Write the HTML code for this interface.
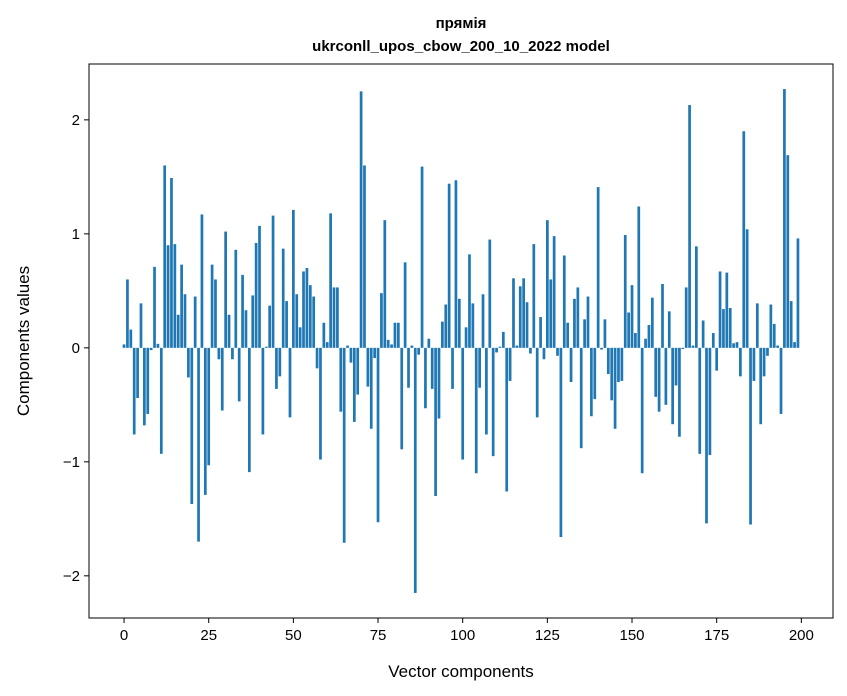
<!DOCTYPE html>
<html><head><meta charset="utf-8"><style>
body{margin:0;background:#fff;}
svg{display:block;font-family:"Liberation Sans","DejaVu Sans",sans-serif;}
</style></head><body>
<svg id="chart" width="847" height="696" viewBox="0 0 847 696" xmlns="http://www.w3.org/2000/svg">
<rect width="847" height="696" fill="#fff"/>
<text x="461" y="28" text-anchor="middle" font-size="15" font-weight="bold">прямія</text>
<text x="461" y="51" text-anchor="middle" font-size="15" font-weight="bold">ukrconll_upos_cbow_200_10_2022 model</text>
<g id="bars"></g>
<g id="xticks"></g>
<g id="yticks"></g>
<rect x="89" y="64" width="744" height="554" fill="none" stroke="#000" stroke-width="1"/>
<text x="461" y="677" text-anchor="middle" font-size="17">Vector components</text>
<text transform="translate(29,341) rotate(-90)" text-anchor="middle" font-size="17">Components values</text>
</svg>
<script>
const values = [0.03,0.60,0.16,-0.76,-0.44,0.39,-0.68,-0.58,-0.02,0.71,
0.035,-0.93,1.60,0.90,1.49,0.91,0.29,0.73,0.47,-0.26,
-1.37,0.45,-1.70,1.17,-1.29,-1.03,0.73,0.60,-0.10,-0.55,
1.02,0.29,-0.10,0.86,-0.47,0.64,0.33,-1.09,0.46,0.92,
1.07,-0.76,0.01,0.37,1.16,-0.36,-0.25,0.87,0.41,-0.61,
1.21,0.47,0.18,0.67,0.70,0.55,0.45,-0.18,-0.98,0.22,
0.05,1.18,0.53,0.53,-0.56,-1.71,0.02,-0.13,-0.65,-0.41,
2.25,1.60,-0.34,-0.71,-0.09,-1.53,0.48,1.12,0.07,0.03,
0.22,0.22,-0.89,0.75,-0.35,0.02,-2.15,-0.06,1.59,-0.53,
0.08,-0.36,-1.30,-0.62,0.23,0.38,1.44,-0.36,1.47,0.43,
-0.98,0.18,0.82,0.39,-1.10,-0.35,0.47,-0.76,0.95,-0.95,
-0.04,0.01,0.14,-1.26,-0.29,0.61,0.02,0.54,0.61,0.40,
-0.05,0.91,-0.61,0.27,-0.10,1.12,0.60,0.98,-0.07,-1.66,
0.81,0.22,-0.30,0.43,0.53,-0.88,0.25,0.45,-0.60,-0.45,
1.41,-0.015,0.25,-0.23,-0.46,-0.71,-0.30,-0.29,0.99,0.31,
0.55,0.13,1.24,-1.10,0.08,0.20,0.44,-0.43,-0.56,0.56,
-0.50,0.32,-0.67,-0.33,-0.78,-0.01,0.53,2.13,0.02,0.89,
-0.93,0.24,-1.54,-0.94,0.13,-0.20,0.67,0.34,0.66,0.35,
0.04,0.05,-0.25,1.90,1.04,-1.55,-0.29,0.39,-0.67,-0.25,
-0.07,0.38,0.21,0.02,-0.58,2.27,1.69,0.41,0.05,0.96];
const xTickValues = [0,25,50,75,100,125,150,175,200];
const yTickValues = [-2,-1,0,1,2];
const yTickLabels = ["\u22122","\u22121","0","1","2"];

const PL=89, PR=833, PT=64, PB=618;
const XMIN=-10.35, XMAX=209.35, YMIN=-2.37, YMAX=2.49;
function xs(v){return PL+(v-XMIN)/(XMAX-XMIN)*(PR-PL);}
function ys(v){return PB-(v-YMIN)/(YMAX-YMIN)*(PB-PT);}
const NS="http://www.w3.org/2000/svg";
const bars=document.getElementById('bars');
const bw=(xs(0.8)-xs(0));
values.forEach((v,i)=>{
  const r=document.createElementNS(NS,'rect');
  
  
  const y0=ys(0), y1=ys(v);
  r.setAttribute('x',xs(i)-bw/2);
  r.setAttribute('y',Math.min(y0,y1));
  r.setAttribute('width',bw);
  r.setAttribute('height',Math.abs(y1-y0));
  r.setAttribute('fill','#1f77b4');
  bars.appendChild(r);
});
const xt=document.getElementById('xticks');
xTickValues.forEach(t=>{
  const x=xs(t);
  const l=document.createElementNS(NS,'line');
  
  
  l.setAttribute('x1',x);l.setAttribute('x2',x);l.setAttribute('y1',PB);l.setAttribute('y2',PB+5);
  l.setAttribute('stroke','#000');
  xt.appendChild(l);
  const tx=document.createElementNS(NS,'text');
  
  
  tx.setAttribute('x',x);tx.setAttribute('y',PB+22);
  tx.setAttribute('text-anchor','middle');tx.setAttribute('font-size','15');
  tx.textContent=String(t);
  xt.appendChild(tx);
});
const yt=document.getElementById('yticks');
yTickValues.forEach((t,i)=>{
  const y=ys(t);
  const l=document.createElementNS(NS,'line');
  
  
  l.setAttribute('x1',PL-5);l.setAttribute('x2',PL);l.setAttribute('y1',y);l.setAttribute('y2',y);
  l.setAttribute('stroke','#000');
  yt.appendChild(l);
  const tx=document.createElementNS(NS,'text');
  
  
  tx.setAttribute('x',PL-9);tx.setAttribute('y',y+5);
  tx.setAttribute('text-anchor','end');tx.setAttribute('font-size','15');
  tx.textContent=yTickLabels[i];
  yt.appendChild(tx);
});
</script>
</body></html>
